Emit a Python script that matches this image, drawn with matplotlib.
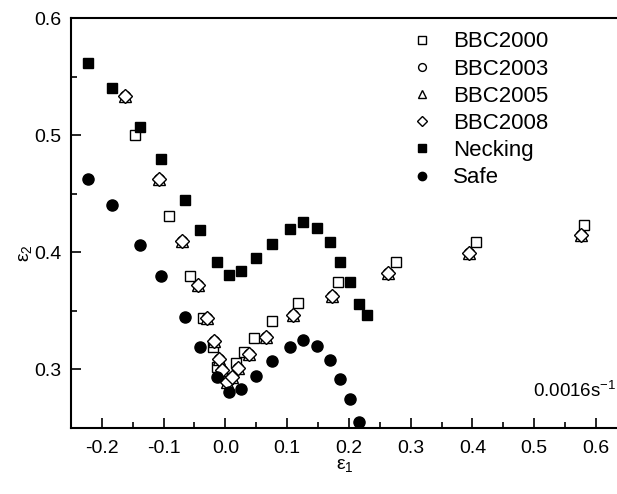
import matplotlib
matplotlib.use("Agg")
import matplotlib.pyplot as plt
from matplotlib.ticker import MultipleLocator

plt.rcParams['font.family'] = ['Liberation Sans', 'DejaVu Sans']
plt.rcParams['mathtext.fontset'] = 'custom'
plt.rcParams['mathtext.rm'] = 'Liberation Sans'
plt.rcParams['mathtext.it'] = 'Liberation Sans'

# necking limit
neck_x = [-0.222, -0.183, -0.139, -0.104, -0.065, -0.041, -0.013, 0.006, 0.026,
          0.049, 0.076, 0.104, 0.125, 0.149, 0.169, 0.185, 0.201, 0.216, 0.229]
neck_y = [0.562, 0.540, 0.507, 0.480, 0.445, 0.419, 0.392, 0.381, 0.384,
          0.395, 0.407, 0.420, 0.426, 0.421, 0.409, 0.392, 0.375, 0.356, 0.346]

# safe limit
safe_x = [-0.222, -0.183, -0.139, -0.104, -0.065, -0.041, -0.013, 0.006, 0.026,
          0.049, 0.076, 0.104, 0.125, 0.149, 0.169, 0.185, 0.201, 0.216]
safe_y = [0.463, 0.440, 0.406, 0.380, 0.345, 0.319, 0.293, 0.281, 0.283,
          0.294, 0.307, 0.319, 0.325, 0.320, 0.308, 0.292, 0.275, 0.255]

# BBC2000
b00_x = [-0.146, -0.092, -0.057, -0.036, -0.020, -0.013, -0.005, 0.005, 0.018,
         0.030, 0.047, 0.076, 0.118, 0.183, 0.276, 0.405, 0.580]
b00_y = [0.500, 0.431, 0.380, 0.344, 0.319, 0.302, 0.293, 0.292, 0.305,
         0.315, 0.327, 0.341, 0.357, 0.375, 0.392, 0.409, 0.423]

# BBC2008 (2003 and 2005 nearly identical, hidden underneath)
b08_x = [-0.162, -0.107, -0.070, -0.045, -0.029, -0.018, -0.011, -0.006, 0.002,
         0.011, 0.021, 0.039, 0.066, 0.109, 0.172, 0.264, 0.394, 0.575]
b08_y = [0.534, 0.463, 0.410, 0.372, 0.344, 0.324, 0.309, 0.299, 0.289,
         0.293, 0.301, 0.313, 0.328, 0.346, 0.363, 0.382, 0.399, 0.415]
b03_x = b08_x
b03_y = b08_y
b05_x = b08_x
b05_y = b08_y

fig = plt.figure(figsize=(6.17, 4.94), dpi=100)
ax = fig.add_axes([0.115, 0.134, 0.901, 0.829])

ax.plot(b00_x, b00_y, 's', mfc='white', mec='black', mew=1.0, ms=7, label='BBC2000')
ax.plot(b03_x, b03_y, 'o', mfc='white', mec='black', mew=1.0, ms=7.5, label='BBC2003')
ax.plot(b05_x, b05_y, '^', mfc='white', mec='black', mew=1.0, ms=8, label='BBC2005')
ax.plot(b08_x, b08_y, 'D', mfc='white', mec='black', mew=1.0, ms=7, label='BBC2008')
ax.plot(neck_x, neck_y, 's', color='black', ms=7, label='Necking')
ax.plot(safe_x, safe_y, 'o', color='black', ms=8, label='Safe')

ax.set_xlim(-0.25, 0.65)
ax.set_ylim(0.25, 0.6)
ax.xaxis.set_minor_locator(MultipleLocator(0.05))
ax.yaxis.set_minor_locator(MultipleLocator(0.05))
ax.set_xticks([-0.2, -0.1, 0.0, 0.1, 0.2, 0.3, 0.4, 0.5, 0.6])
ax.set_xticklabels(['-0.2', '-0.1', '0.0', '0.1', '0.2', '0.3', '0.4', '0.5', '0.6'])
ax.set_yticks([0.3, 0.4, 0.5, 0.6])
ax.set_yticklabels(['0.3', '0.4', '0.5', '0.6'])
ax.tick_params(which='major', direction='in', length=7, width=1.2, labelsize=14, pad=9)
ax.tick_params(which='minor', direction='in', length=4, width=1.2)
ax.tick_params(axis='y', which='major', pad=7)
for s in ['left', 'bottom', 'top', 'right']:
    ax.spines[s].set_linewidth(1.5)

fig.text(345 / 617, 1 - 465 / 494, 'ε$_1$', fontsize=14, ha='center', va='center')
fig.text(26 / 617, 1 - 253 / 494, 'ε$_2$', fontsize=14, ha='center', va='center',
         rotation=90)

ax.text(0.633, 0.2763, '0.0016s$^{-1}$', fontsize=13.5, ha='right', va='baseline')

leg = ax.legend(loc='upper left', bbox_to_anchor=(0.611, 0.968), frameon=False,
                fontsize=16, markerscale=0.75, handlelength=1.0, handletextpad=0.9,
                labelspacing=0.28, borderaxespad=0, borderpad=0)

fig.savefig('out.png', dpi=100)
